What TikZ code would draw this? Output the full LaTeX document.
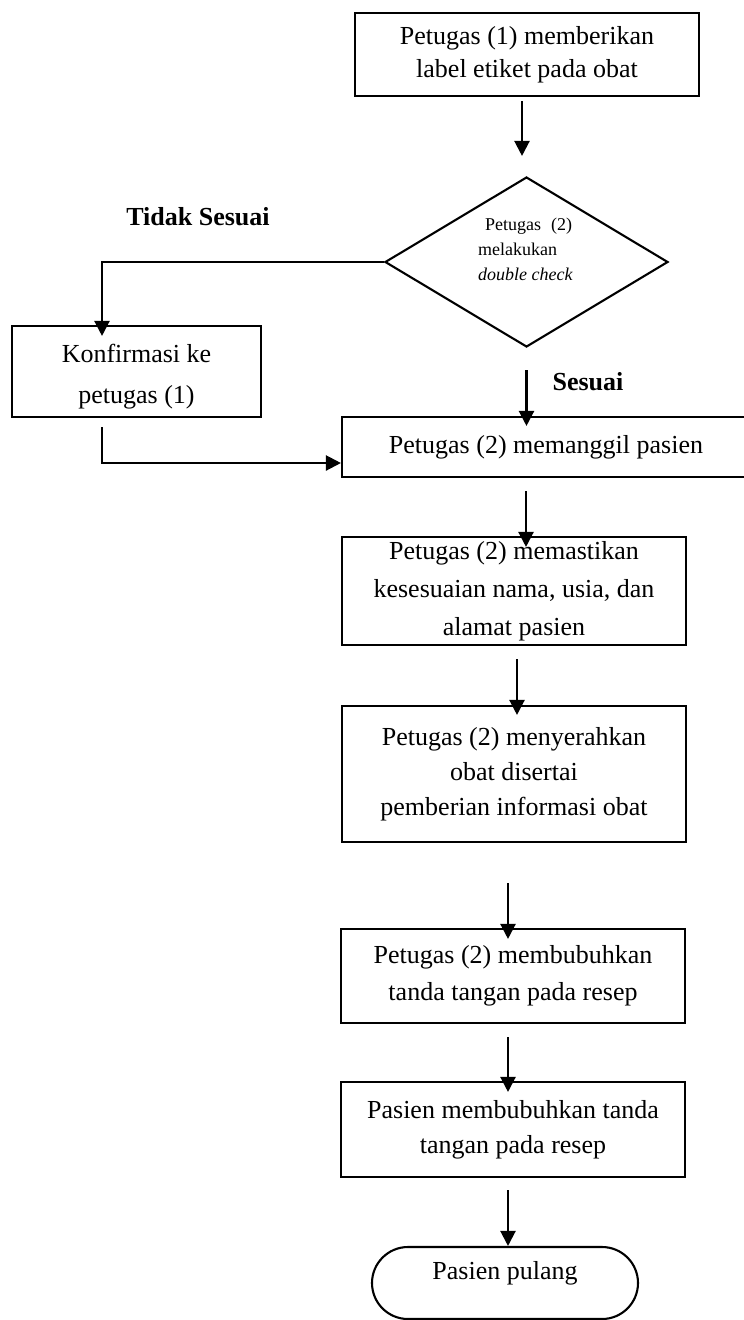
\documentclass[tikz,border=0pt]{standalone}
\usepackage{fontspec}
\setmainfont{Liberation Serif}
\usetikzlibrary{arrows.meta,shapes.geometric,calc}
\begin{document}
\begin{tikzpicture}[x=1pt,y=-1pt,
  box/.style={draw,line width=2.1pt,rectangle,inner sep=0pt,align=center},
  arr/.style={line width=2.2pt,-{Triangle[length=15pt,width=15pt]}},
  lbl/.style={font=\fontsize{26}{30}\selectfont\bfseries,inner sep=0pt}]
\useasboundingbox (0,0) rectangle (744,1320);
% nodes
\node[box,minimum width=344pt,minimum height=83pt,font=\fontsize{26}{33}\selectfont] (b1) at (527,54.5) {Petugas (1) memberikan\\label etiket pada obat};
\node[draw,diamond,line width=2.1pt,minimum width=283pt,minimum height=170pt,inner sep=0pt] (dia) at (526.5,262) {};
\node[font=\fontsize{18}{25}\selectfont,align=left,inner sep=0pt] (dtx) at (525.5,249) {\hspace*{7pt}Petugas\hspace{10pt}(2)\\melakukan\\\textit{double check}};
\node[box,minimum width=249pt,minimum height=91pt,font=\fontsize{26}{41}\selectfont] (konf) at (136.5,371.5) {\rule{0pt}{28pt}Konfirmasi ke\\petugas (1)};
\node[box,minimum width=408pt,minimum height=60pt,font=\fontsize{26}{33}\selectfont] (b2) at (546,447) {Petugas (2) memanggil pasien};
\node[box,minimum width=344pt,minimum height=108pt,font=\fontsize{26}{38}\selectfont] (b3) at (514,591) {Petugas (2) memastikan\\kesesuaian nama, usia, dan\\alamat pasien};
\node[box,minimum width=344pt,minimum height=136pt,font=\fontsize{26}{35}\selectfont] (b4) at (514,774) {Petugas (2) menyerahkan\\obat disertai\\pemberian informasi obat};
\node[box,minimum width=344pt,minimum height=94pt,font=\fontsize{26}{37}\selectfont] (b5) at (513,976) {Petugas (2) membubuhkan\\tanda tangan pada resep};
\node[box,minimum width=344pt,minimum height=95pt,font=\fontsize{26}{35}\selectfont] (b6) at (513,1129.5) {Pasien membubuhkan tanda\\tangan pada resep};
\node[draw,line width=2.1pt,rounded corners=36pt,minimum width=266pt,minimum height=72pt,inner sep=0pt,text height=18pt,text depth=26pt,font=\fontsize{26}{30}\selectfont] (term) at (505,1283) {Pasien pulang};
% labels
\node[lbl] (ltidak) at (198,217) {Tidak Sesuai};
\node[lbl] (lsesuai) at (588,382) {Sesuai};
% connectors
\draw[arr,shorten <=4pt,shorten >=20pt] ([xshift=-5pt]b1.south) -- ([xshift=-4.5pt]dia.north);
\draw[arr,shorten >=-11pt] (dia.west) -| ([xshift=-34.5pt]konf.north);
\draw[arr,shorten <=22pt,shorten >=-10pt] (dia.south) -- (dia.south |- b2.north);
\draw[arr,shorten <=9pt] ([xshift=-34.5pt]konf.south) |- ([yshift=-16pt]b2.west);
\draw[arr,shorten <=13pt,shorten >=-11pt] ([xshift=-20pt]b2.south) -- ([xshift=12pt]b3.north);
\draw[arr,shorten <=13pt,shorten >=-10pt] ([xshift=3pt]b3.south) -- ([xshift=3pt]b4.north);
\draw[arr,shorten <=40pt,shorten >=-11pt] ([xshift=-6pt]b4.south) -- ([xshift=-5pt]b5.north);
\draw[arr,shorten <=13pt,shorten >=-11pt] ([xshift=-5pt]b5.south) -- ([xshift=-5pt]b6.north);
\draw[arr,shorten <=12pt] ([xshift=-5pt]b6.south) -- ([xshift=3pt]term.north);
\end{tikzpicture}
\end{document}
